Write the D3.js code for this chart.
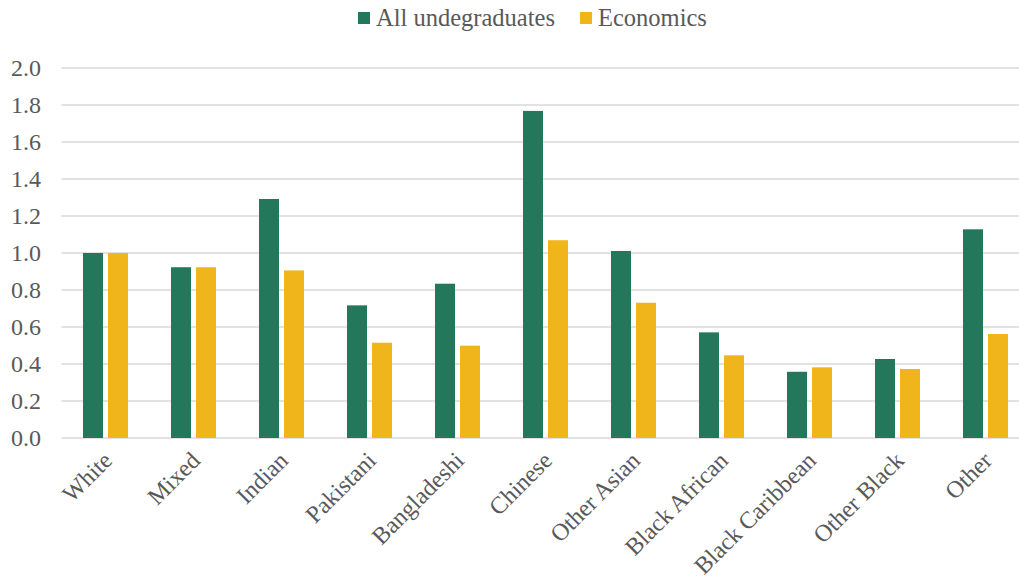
<!DOCTYPE html>
<html><head><meta charset="utf-8">
<script src="https://cdn.jsdelivr.net/npm/d3@7/dist/d3.min.js"></script>
<style>body{margin:0;background:#fff}svg{display:block}text{font-family:"Liberation Serif","Times New Roman","DejaVu Serif",serif}</style>
</head><body>
<svg id="c" width="1019" height="580"></svg>
<script>
const categories = ["White","Mixed","Indian","Pakistani","Bangladeshi","Chinese","Other Asian","Black African","Black Caribbean","Other Black","Other"];
const seriesNames = ["All undegraduates","Economics"];
const allUndergrads = [1.0,0.923,1.292,0.717,0.834,1.768,1.011,0.571,0.358,0.427,1.128];
const economics = [1.0,0.923,0.906,0.515,0.499,1.069,0.731,0.447,0.382,0.373,0.562];
const yTicks = [0,0.2,0.4,0.6,0.8,1.0,1.2,1.4,1.6,1.8,2.0];
const colors = ["#23775A","#F0B51A"];

const svg = d3.select("#c");
const textColor = "#595959";
const fs = 24;

const x = d3.scaleBand().domain(categories).range([61.5,1029.5]);
const y = d3.scaleLinear().domain([0,2]).range([438,68]);
const barW = 20, gap = 5;

// gridlines
svg.append("g").selectAll("line").data(yTicks).join("line")
  .attr("x1",61.5).attr("x2",1029.5)
  .attr("y1",d=>y(d)).attr("y2",d=>y(d))
  .attr("stroke","#d9d9d9").attr("stroke-width",1.5);

// y labels
svg.append("g").selectAll("text").data(yTicks).join("text")
  .attr("x",41).attr("y",d=>y(d)).attr("dy","0.35em")
  .attr("text-anchor","end").attr("font-size",24)
  .attr("fill",textColor).text(d=>d.toFixed(1));

const series = [allUndergrads, economics];
series.forEach((vals,si)=>{
  svg.append("g").selectAll("rect").data(vals).join("rect")
    .attr("x",(d,i)=>x(categories[i]) + x.bandwidth()/2 + (si===0 ? -(barW+gap/2) : gap/2))
    .attr("width",barW)
    .attr("y",d=>y(d)).attr("height",d=>y(0)-y(d))
    .attr("fill",colors[si]);
});

// x labels
svg.append("g").selectAll("text").data(categories).join("text")
  .attr("transform",d=>`translate(${x(d)+x.bandwidth()/2+8},${462}) rotate(-45)`)
  .attr("text-anchor","end").attr("font-size",fs)
  .attr("fill",textColor).text(d=>d);

// legend
const leg = svg.append("g");
const legX = [358, 580];
seriesNames.forEach((n,i)=>{
  leg.append("rect").attr("x",legX[i]).attr("y",12).attr("width",12).attr("height",12).attr("fill",colors[i]);
  leg.append("text").attr("x",legX[i]+18).attr("y",26).attr("font-size",24.5)
    .attr("fill",textColor).text(n);
});
</script>
</body></html>
